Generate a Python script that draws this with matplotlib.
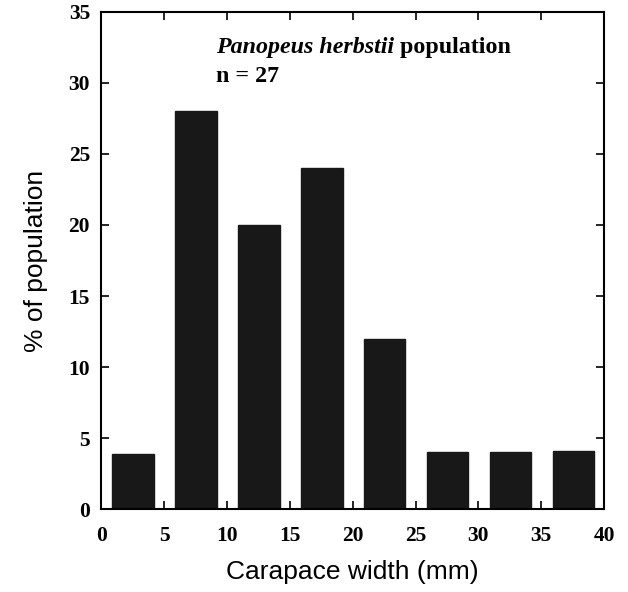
import matplotlib.pyplot as plt

bin_start = [0, 5, 10, 15, 20, 25, 30, 35]
percent = [3.9, 28, 20, 24, 12, 4, 4, 4.1]
xticks = [0, 5, 10, 15, 20, 25, 30, 35, 40]
yticks = [0, 5, 10, 15, 20, 25, 30, 35]

serif = ['Liberation Serif', 'DejaVu Serif']
sans = ['Liberation Sans', 'DejaVu Sans']

fig = plt.figure(figsize=(6.28, 5.92), dpi=100)
ax = fig.add_axes([0.161, 0.140, 0.801, 0.840])

# bars sit a bit right of each 5 mm bin start
left = [b + 0.9 for b in bin_start]
ax.bar(left, percent, width=3.3, align='edge', color='#181818', edgecolor='#181818')

ax.set_xlim(0, 40)
ax.set_ylim(0, 35)
ax.set_xticks(xticks)
ax.set_yticks(yticks)
ax.tick_params(direction='in', length=6, width=1.2, top=True, right=True,
               labeltop=False, labelright=False)
ax.tick_params(axis='x', pad=12)
ax.tick_params(axis='y', pad=8)
for lab in ax.get_xticklabels() + ax.get_yticklabels():
    lab.set_family(serif)
    lab.set_fontweight('bold')
    lab.set_fontsize(15.5)
for s in ax.spines.values():
    s.set_linewidth(1.5)

ax.set_xlabel('Carapace width (mm)', family=sans, fontsize=19, labelpad=10)
ax.set_ylabel('% of population', family=sans, fontsize=19, labelpad=15)

t1 = ax.text(9.1, 32.1, 'Panopeus herbstii', family=serif, style='italic',
             fontweight='bold', fontsize=17.3, va='baseline')
ax.annotate(' population', xy=(1, 0), xycoords=t1, va='bottom',
            family=serif, fontweight='bold', fontsize=17.3)
ax.text(9.1, 30.05, 'n = 27', family=serif, fontweight='bold', fontsize=17.3,
        va='baseline')

fig.savefig('out.png', dpi=100)
